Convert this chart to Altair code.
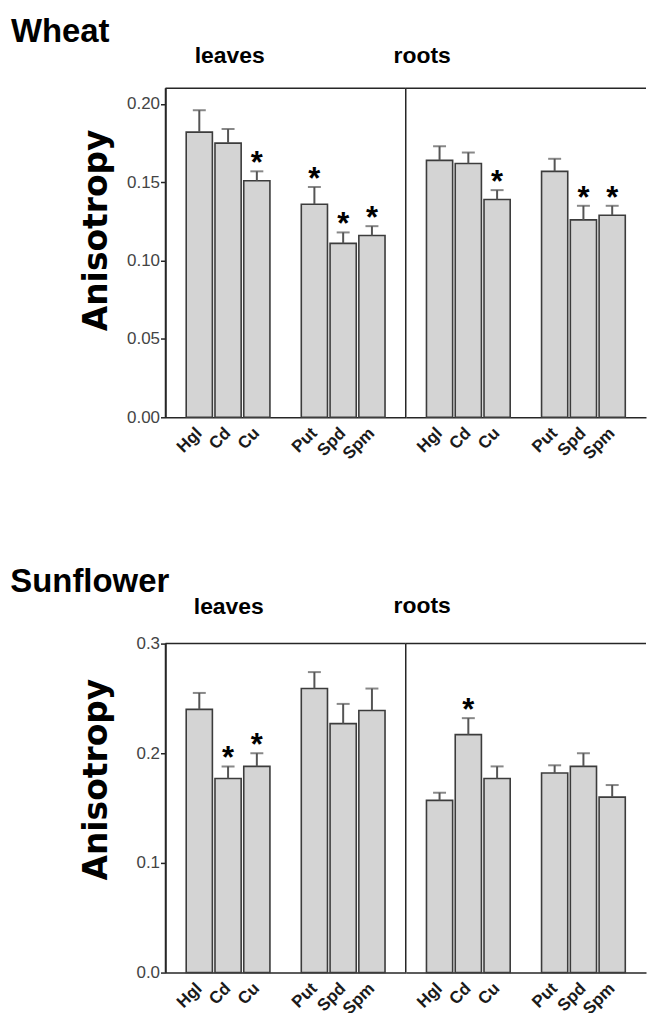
import altair as alt
import pandas as pd

# treatment slots on the x axis; the blank entry leaves a gap between the two groups
slots = ["Hgl", "Cd", "Cu", " ", "Put", "Spd", "Spm"]
treatments = ["Hgl", "Cd", "Cu", "Put", "Spd", "Spm"]

# Wheat
wheat_leaves_mean = [0.182, 0.175, 0.151, 0.136, 0.111, 0.116]
wheat_leaves_se = [0.014, 0.009, 0.006, 0.011, 0.007, 0.006]
wheat_leaves_sig = [0, 0, 1, 1, 1, 1]
wheat_roots_mean = [0.164, 0.162, 0.139, 0.157, 0.126, 0.129]
wheat_roots_se = [0.009, 0.007, 0.006, 0.008, 0.009, 0.006]
wheat_roots_sig = [0, 0, 1, 0, 1, 1]

# Sunflower
sun_leaves_mean = [0.240, 0.177, 0.188, 0.259, 0.227, 0.239]
sun_leaves_se = [0.015, 0.011, 0.012, 0.015, 0.018, 0.020]
sun_leaves_sig = [0, 1, 1, 0, 0, 0]
sun_roots_mean = [0.157, 0.217, 0.177, 0.182, 0.188, 0.160]
sun_roots_se = [0.007, 0.015, 0.011, 0.007, 0.012, 0.011]
sun_roots_sig = [0, 1, 0, 0, 0, 0]

wheat_ticks = [0.0, 0.05, 0.10, 0.15, 0.20]
sun_ticks = [0.0, 0.1, 0.2, 0.3]

W = 241
H = 330
LINE = "#262626"
SANS = "Liberation Sans, Arial, sans-serif"


def panel(mean, se, sig, ymax, ticks, fmt, with_axis, label, label_dx,
          label_offset, title_pad, title_y):
    df = pd.DataFrame({
        "treatment": treatments,
        "mean": mean,
        "top": [m + s for m, s in zip(mean, se)],
        "sig": sig,
    })
    x = alt.X(
        "treatment:N",
        sort=slots,
        scale=alt.Scale(domain=slots, paddingInner=0.09, paddingOuter=0.72),
        axis=alt.Axis(
            title=None, ticks=False, labelAngle=315, labelAlign="right",
            labelBaseline="middle", labelPadding=13, labelFont=SANS,
            labelFontWeight="bold", labelFontSize=17, labelColor="#1a1a1a",
            domainColor=LINE, domainWidth=1.5, grid=False,
        ),
    )
    yscale = alt.Scale(domain=[0, ymax], nice=False, zero=True)
    if with_axis:
        yaxis = alt.Axis(
            values=ticks, format=fmt, title="Anisotropy", grid=False,
            domainColor=LINE, domainWidth=1.5, tickColor=LINE, tickWidth=1.5,
            tickSize=5, labelFont=SANS, labelFontSize=17, labelColor="#444444",
            labelPadding=1, titleFont="DejaVu Sans", titleFontWeight="bold",
            titleFontSize=33, titleColor="#000000", titlePadding=title_pad,
            titleAngle=270, titleY=title_y,
        )
    else:
        yaxis = None
    y = alt.Y("mean:Q", scale=yscale, axis=yaxis)

    frame_data = alt.Data(values=[{"k": 0}])
    top_rule = alt.Chart(frame_data).mark_rule(
        color=LINE, strokeWidth=1.5
    ).encode(x=alt.value(0), x2=alt.value(W), y=alt.value(0))
    left_rule = alt.Chart(frame_data).mark_rule(
        color=LINE, strokeWidth=1.5
    ).encode(x=alt.value(0), y=alt.value(0), y2=alt.value(H))

    base = alt.Chart(df)
    bars = base.mark_bar(
        fill="#d4d4d4", stroke="#3c3c3c", strokeWidth=1.6
    ).encode(x=x, y=y)
    err = base.mark_rule(color="#555555", strokeWidth=2).encode(
        x=alt.X("treatment:N", sort=slots),
        y=alt.Y("mean:Q", scale=yscale),
        y2="top:Q",
    )
    cap = base.mark_tick(color="#555555", thickness=2, size=13).encode(
        x=alt.X("treatment:N", sort=slots),
        y=alt.Y("top:Q", scale=yscale),
    )
    stars = base.transform_filter(alt.datum.sig == 1).mark_text(
        text="*", font=SANS, fontWeight="bold", fontSize=31,
        baseline="alphabetic", dy=2, color="#000000",
    ).encode(
        x=alt.X("treatment:N", sort=slots),
        y=alt.Y("top:Q", scale=yscale),
    )

    layers = [top_rule, left_rule, bars, err, cap, stars]
    return alt.layer(*layers).properties(
        width=W, height=H,
        title=alt.TitleParams(
            label, font=SANS, fontSize=23, fontWeight="bold", color="#000000",
            anchor="middle", dx=label_dx, offset=label_offset,
        ),
    )


def plant(name, parts):
    return alt.hconcat(*parts, spacing=0, bounds="flush").properties(
        title=alt.TitleParams(
            name, font=SANS, fontSize=33, fontWeight="bold", color="#000000",
            anchor="start", frame="bounds", dx=-70, offset=-4,
        )
    )


wheat = plant("Wheat", [
    panel(wheat_leaves_mean, wheat_leaves_se, wheat_leaves_sig, 0.21,
          wheat_ticks, ".2f", True, "leaves", -56, 20, 13, 142),
    panel(wheat_roots_mean, wheat_roots_se, wheat_roots_sig, 0.21,
          wheat_ticks, ".2f", False, "roots", -104, 20, 13, 142),
])

sunflower = plant("Sunflower", [
    panel(sun_leaves_mean, sun_leaves_se, sun_leaves_sig, 0.3,
          sun_ticks, ".1f", True, "leaves", -57, 16, 23, 136),
    panel(sun_roots_mean, sun_roots_se, sun_roots_sig, 0.3,
          sun_ticks, ".1f", False, "roots", -104, 25, 23, 136),
])

chart = alt.vconcat(wheat, sunflower, spacing=104).properties(
    padding={"left": 10, "top": 14, "right": 0, "bottom": 0},
    background="#ffffff",
).configure_view(strokeWidth=0)

chart.save("out.html", embed_options={"renderer": "svg", "actions": False})
